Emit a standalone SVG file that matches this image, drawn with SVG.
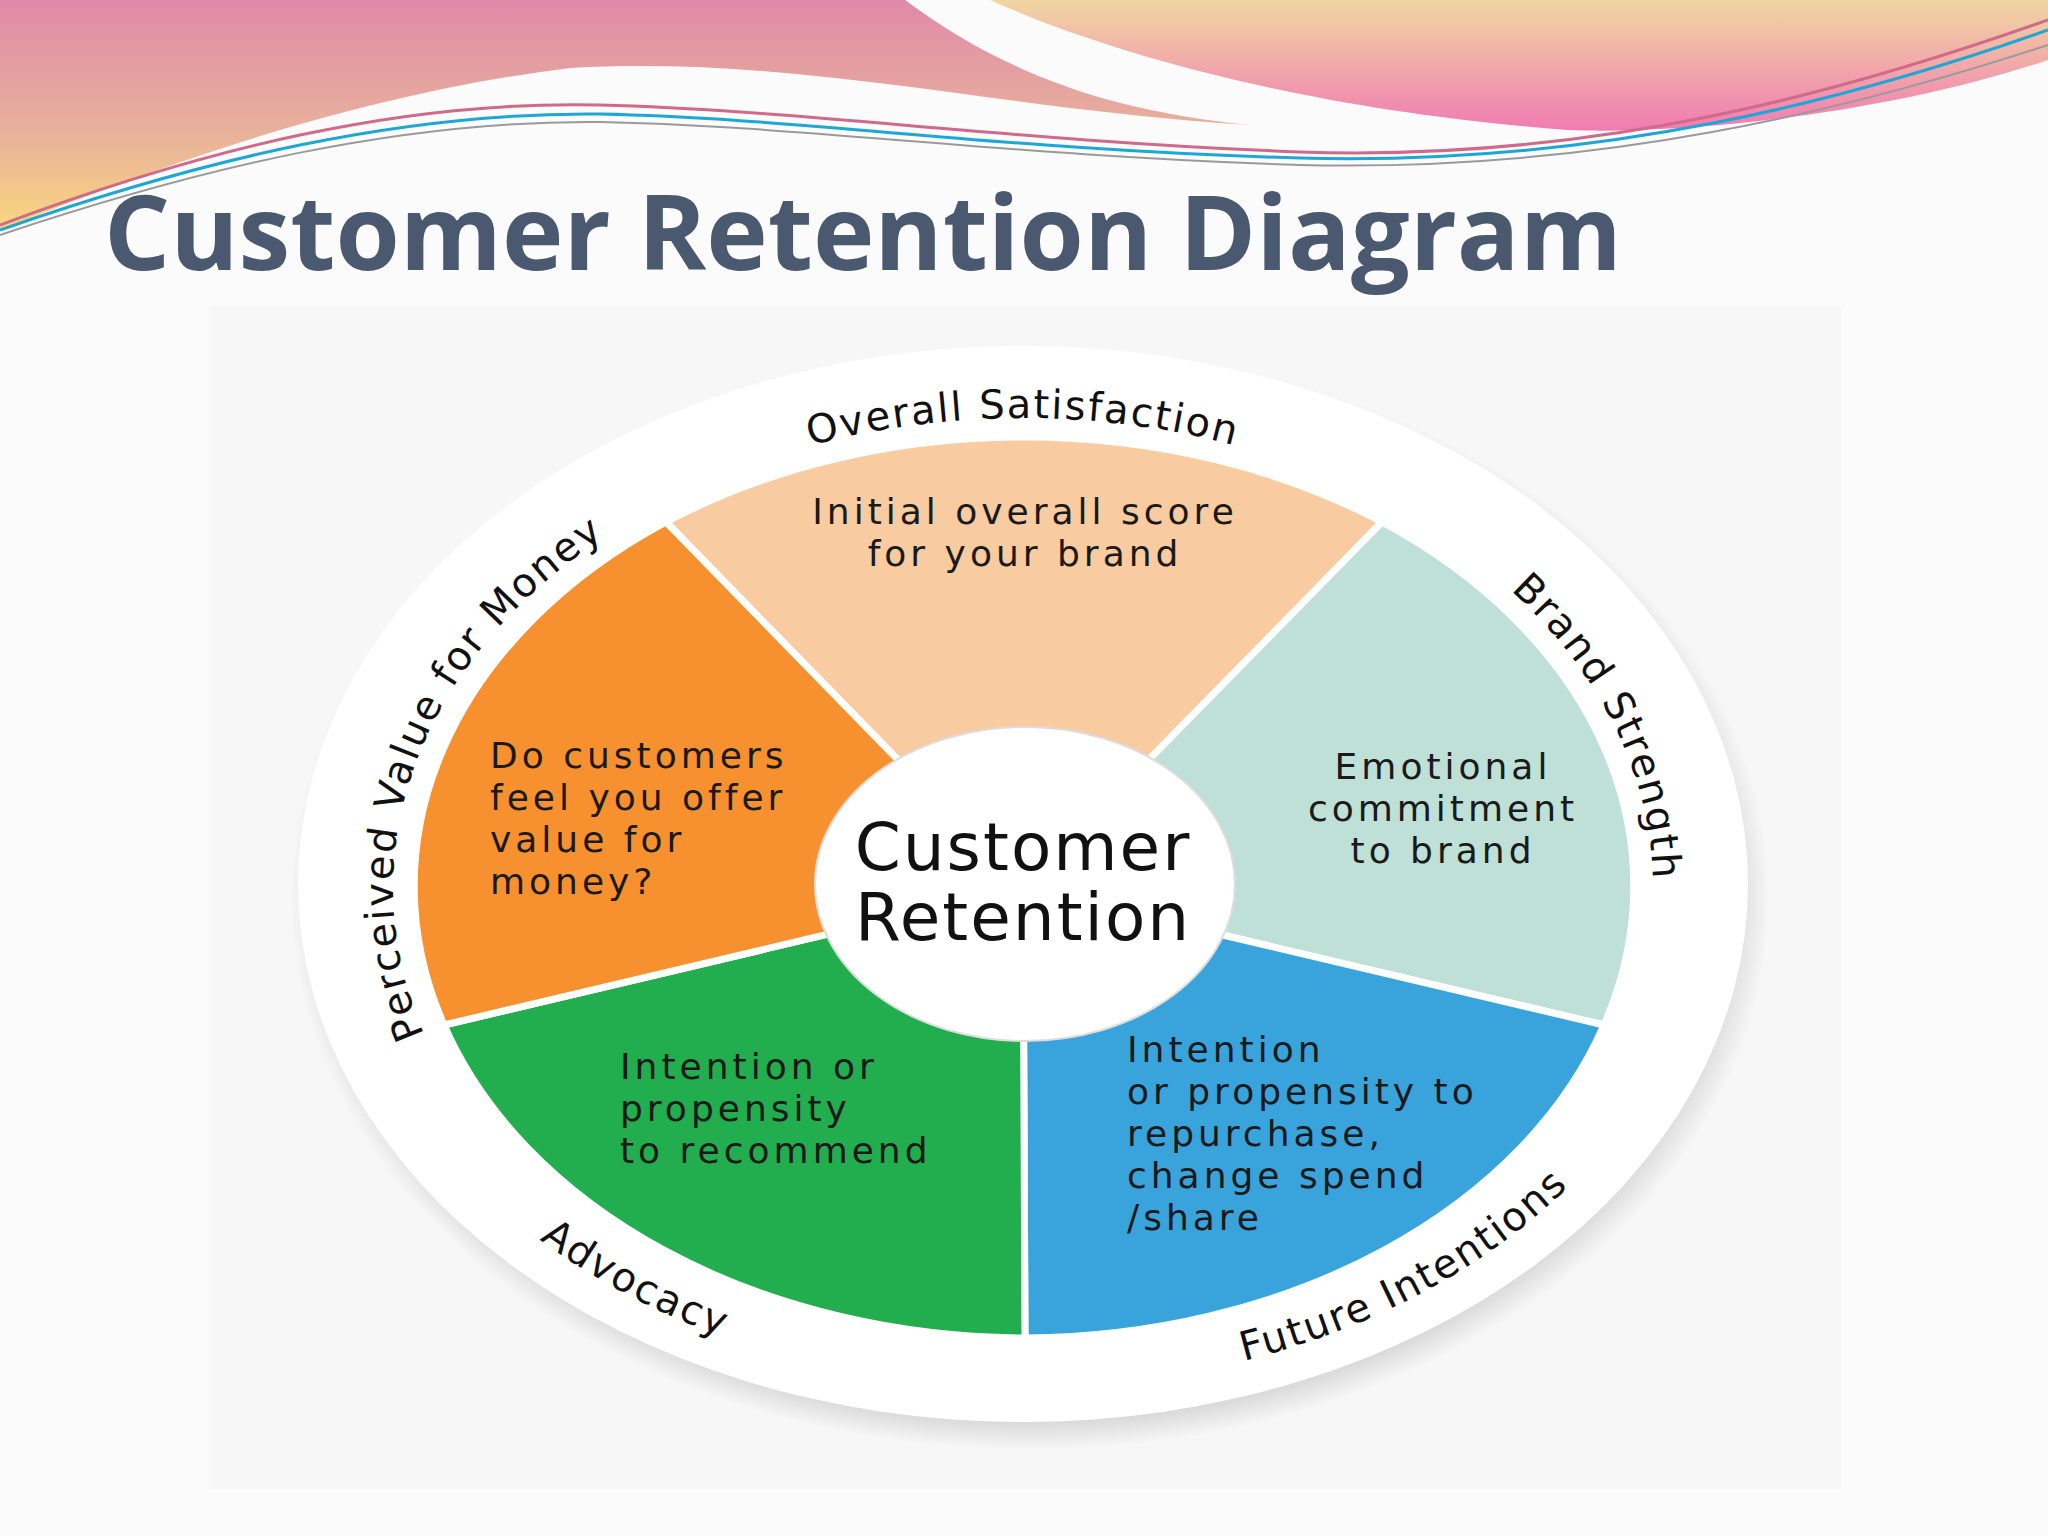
<svg xmlns="http://www.w3.org/2000/svg" width="2048" height="1536" viewBox="0 0 2048 1536">
<defs>
<linearGradient id="gl" x1="0" y1="0" x2="0" y2="1"><stop offset="0" stop-color="#e08aa8"/><stop offset="0.6" stop-color="#e8b39a"/><stop offset="1" stop-color="#fbd77e"/></linearGradient>
<linearGradient id="gr" x1="0" y1="0" x2="0" y2="1"><stop offset="0" stop-color="#f1d6a2"/><stop offset="1" stop-color="#f07cb2"/></linearGradient>
<radialGradient id="sh" cx="0.5" cy="0.5" r="0.5"><stop offset="0.9" stop-color="#bdbdbd"/><stop offset="1" stop-color="#bdbdbd" stop-opacity="0"/></radialGradient>
<path id="topArc" d="M1023,1358 A630,470 0 0 1 1023,418 A630,470 0 0 1 1023,1358"/>
<path id="botArc" d="M343,888 A680,500 0 0 0 1703,888"/>
</defs>
<style>
.seg{stroke:#fff;stroke-width:7;stroke-linejoin:round}
.t{font-family:"DejaVu Sans",sans-serif;font-size:36px;fill:#1a1a1a;letter-spacing:4px;font-weight:500}
.ring{font-family:"DejaVu Sans",sans-serif;font-size:40px;fill:#111;letter-spacing:2px}
.ctr{font-family:"DejaVu Sans",sans-serif;font-size:66px;fill:#111;text-anchor:middle;letter-spacing:2px}
</style>
<rect width="2048" height="1536" fill="#fbfbfb"/>
<g id="decor">
<path d="M0,0 H905 C1000,70 1100,110 1250,125 C1000,110 800,55 570,68 C350,95 150,170 0,230 Z" fill="url(#gl)"/>
<path d="M990,0 H2048 V60 C1900,110 1700,135 1568,130 C1300,110 1100,50 990,0 Z" fill="url(#gr)"/>
<path d="M0,225 C200,150 400,100 600,105 C800,110 1000,140 1300,152 C1600,162 1850,90 2048,20" fill="none" stroke="#d06a8a" stroke-width="3"/>
<path d="M0,230 C200,160 400,112 600,114 C800,118 1000,150 1300,158 C1600,166 1850,100 2048,30" fill="none" stroke="#1ea6d6" stroke-width="3"/>
<path d="M0,235 C200,168 400,120 600,122 C800,126 1000,155 1300,165 C1600,172 1850,110 2048,45" fill="none" stroke="#9a9a9a" stroke-width="2"/>
</g>
<text x="104" y="270" font-family="'Open Sans','Liberation Sans',sans-serif" font-weight="bold" font-size="104" fill="#4b5970">Customer Retention Diagram</text>
<rect x="209" y="307" width="1633" height="1182" fill="#f7f7f7"/>
<g id="ring">
<ellipse cx="1030" cy="898" rx="740" ry="552" fill="url(#sh)"/>
<ellipse cx="1023" cy="884" rx="725" ry="538" fill="#fff"/>
</g>
<g id="seg-satisfaction"><path class="seg" d="M1023,888 L666,522 A612.6,450.6 0 0 1 1382,522 Z" fill="#f8cba0"/>
<text class="t" text-anchor="middle"><tspan x="1025" y="524">Initial overall score</tspan><tspan x="1025" y="566">for your brand</tspan></text></g>
<g id="seg-brand"><path class="seg" d="M1023,888 L1382,522 A612.6,450.6 0 0 1 1604,1025 Z" fill="#bfe0d6"/>
<text class="t" text-anchor="middle"><tspan x="1443" y="779">Emotional</tspan><tspan x="1443" y="821">commitment</tspan><tspan x="1443" y="863">to brand</tspan></text></g>
<g id="seg-future"><path class="seg" d="M1023,888 L1604,1025 A612.6,450.6 0 0 1 1025,1338 Z" fill="#39a3dc"/>
<text class="t"><tspan x="1127" y="1062">Intention</tspan><tspan x="1127" y="1104">or propensity to</tspan><tspan x="1127" y="1146">repurchase,</tspan><tspan x="1127" y="1188">change spend</tspan><tspan x="1127" y="1230">/share</tspan></text></g>
<g id="seg-advocacy"><path class="seg" d="M1023,888 L1025,1338 A612.6,450.6 0 0 1 444,1025 Z" fill="#22ad4e"/>
<text class="t"><tspan x="620" y="1079">Intention or</tspan><tspan x="620" y="1121">propensity</tspan><tspan x="620" y="1163">to recommend</tspan></text></g>
<g id="seg-value"><path class="seg" d="M1023,888 L444,1025 A612.6,450.6 0 0 1 666,522 Z" fill="#f7912f"/>
<text class="t"><tspan x="490" y="768">Do customers</tspan><tspan x="490" y="810">feel you offer</tspan><tspan x="490" y="852">value for</tspan><tspan x="490" y="894">money?</tspan></text></g>
<g id="center"><ellipse cx="1025" cy="884" rx="210" ry="157" fill="#fff" stroke="#ddd" stroke-width="2"/>
<text class="ctr"><tspan x="1023" y="870">Customer</tspan><tspan x="1023" y="940">Retention</tspan></text></g>
<g id="ring-labels">
<text class="ring" text-anchor="middle"><textPath href="#topArc" startOffset="29%">Perceived Value for Money</textPath></text>
<text class="ring" text-anchor="middle"><textPath href="#topArc" startOffset="50%">Overall Satisfaction</textPath></text>
<text class="ring" text-anchor="middle"><textPath href="#topArc" startOffset="70%">Brand Strength</textPath></text>
<text class="ring" text-anchor="middle"><textPath href="#botArc" startOffset="28%">Advocacy</textPath></text>
<text class="ring" text-anchor="middle"><textPath href="#botArc" startOffset="72%">Future Intentions</textPath></text>
</g>
<g id="connectors"/>
</svg>
